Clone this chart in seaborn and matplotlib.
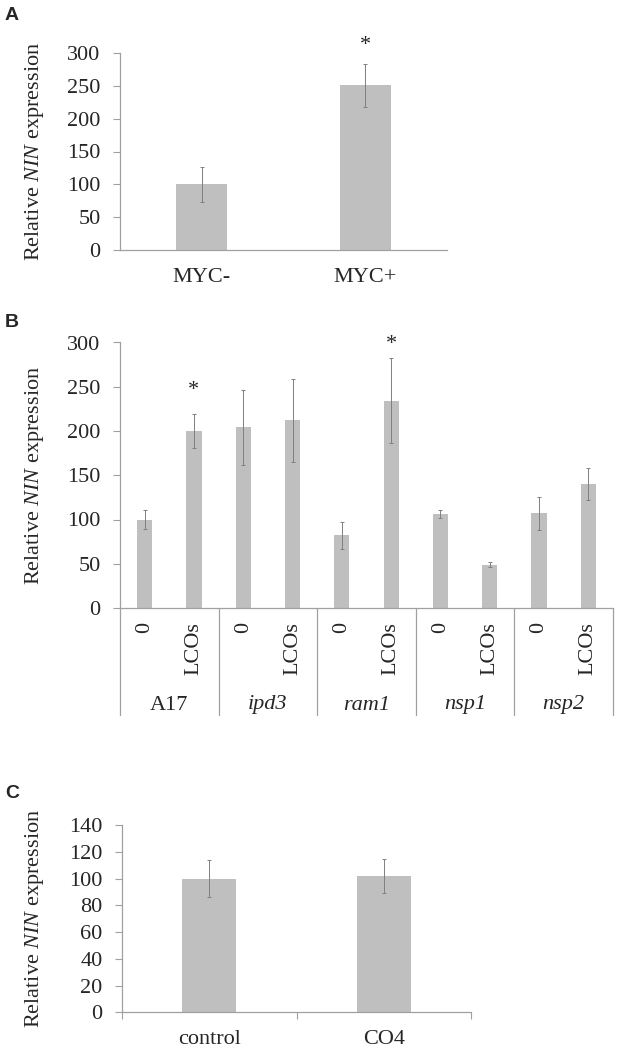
import numpy as np
import matplotlib
matplotlib.use('Agg')
import matplotlib.pyplot as plt
import matplotlib.transforms as mtransforms
import seaborn as sns
import pandas as pd

# panel A
a_cats = ['MYC-', 'MYC+']
a_vals = [100, 251]
a_err = [27, 33]
a_star = {1: 312}

# panel B
b_groups = ['A17', 'ipd3', 'ram1', 'nsp1', 'nsp2']
b_group_italic = [False, True, True, True, True]
b_treat = ['0', 'LCOs']
b_vals = [100, 200, 204, 212, 82, 234, 106, 49, 107, 140]
b_err = [11, 19, 42, 47, 15, 48, 4.5, 3, 18.5, 18]
b_star = {1: 246, 5: 298}

# panel C
c_cats = ['control', 'CO4']
c_vals = [100, 102]
c_err = [14, 12.6]

W, H = 617, 1051
BAR = '#bfbfbf'
AXC = '#a0a0a0'
ERC = '#808080'
FS = 16

sns.set_style('white')
plt.rcParams['font.family'] = ['Liberation Serif', 'DejaVu Serif']
plt.rcParams['mathtext.fontset'] = 'custom'
plt.rcParams['mathtext.rm'] = 'Liberation Serif'
plt.rcParams['mathtext.it'] = 'Liberation Serif:italic'

fig = plt.figure(figsize=(W / 100, H / 100), dpi=100)


def px_axes(l, r, t, b):
    return fig.add_axes([l / W, 1 - b / H, (r - l) / W, (b - t) / H])


def style(ax, ylim, yticks):
    ax.set_ylim(*ylim)
    ax.set_yticks(yticks)
    for s in ['top', 'right']:
        ax.spines[s].set_visible(False)
    for s in ['left', 'bottom']:
        ax.spines[s].set_color(AXC)
        ax.spines[s].set_linewidth(0.9)
    ax.tick_params(axis='y', direction='out', length=5, width=0.8, color=AXC,
                   labelsize=FS, pad=9, left=True)
    ax.set_ylabel(r'Relative $\mathit{NIN}$ expression', fontsize=FS)
    trans = mtransforms.blended_transform_factory(fig.transFigure, ax.transAxes)
    ax.yaxis.set_label_coords(46 / W, 0.5, transform=trans)
    ax.set_xlabel('')


def bars(ax, labels, vals, errs):
    df = pd.DataFrame({'cat': labels, 'val': vals})
    sns.barplot(data=df, x='cat', y='val', color=BAR, saturation=1, width=0.31,
                errorbar=None, ax=ax, edgecolor='none')
    ax.errorbar(np.arange(len(vals)), vals, yerr=errs, fmt='none', ecolor=ERC,
                elinewidth=0.7, capsize=1.2, capthick=0.7)
    ax.set_xlim(-0.5, len(vals) - 0.5)


# ---- A
axA = px_axes(120, 447, 53, 250)
bars(axA, a_cats, a_vals, a_err)
style(axA, (0, 300), range(0, 301, 50))
axA.tick_params(axis='x', length=0, labelsize=FS, pad=13)
for i, y in a_star.items():
    axA.text(i, y, '*', ha='center', va='center', fontsize=FS, clip_on=False)

# ---- B
axB = px_axes(120, 613, 342.5, 608)
b_ids = [f'{g}_{t}' for g in b_groups for t in b_treat]
bars(axB, b_ids, b_vals, b_err)
style(axB, (0, 300), range(0, 301, 50))
axB.set_xticks(range(len(b_ids)))
axB.set_xticklabels(b_treat * len(b_groups), rotation=90, va='top', ha='center')
axB.tick_params(axis='x', length=0, labelsize=FS, pad=10)
for i, y in b_star.items():
    axB.text(i, y, '*', ha='center', va='center', fontsize=FS, clip_on=False)
tB = mtransforms.blended_transform_factory(axB.transData, axB.transAxes)
n = len(b_treat)
for k in range(len(b_groups) + 1):
    xb = k * n - 0.5
    axB.plot([xb, xb], [0, -107 / 265.5], color=AXC, lw=0.9, transform=tB,
             clip_on=False)
for k, g in enumerate(b_groups):
    axB.text(k * n + (n - 1) / 2, -97 / 265.5, g, ha='center', va='center',
             fontsize=FS, style='italic' if b_group_italic[k] else 'normal',
             transform=tB)

# ---- C
axC = px_axes(122, 471, 825, 1012.3)
bars(axC, c_cats, c_vals, c_err)
style(axC, (0, 140), range(0, 141, 20))
axC.set_xticks(np.arange(-0.5, len(c_cats), 1.0), minor=True)
axC.tick_params(axis='x', which='major', length=0, labelsize=FS, pad=13)
axC.tick_params(axis='x', which='minor', direction='out', length=5, width=0.8,
                color=AXC, bottom=True)

# panel letters
for lab, ytop in [('A', 20), ('B', 327), ('C', 798)]:
    fig.text(5 / W, 1 - ytop / H, lab, fontsize=14, fontweight='bold',
             family='Liberation Sans', va='baseline', ha='left')

fig.savefig('out.png', dpi=100, facecolor='white')
